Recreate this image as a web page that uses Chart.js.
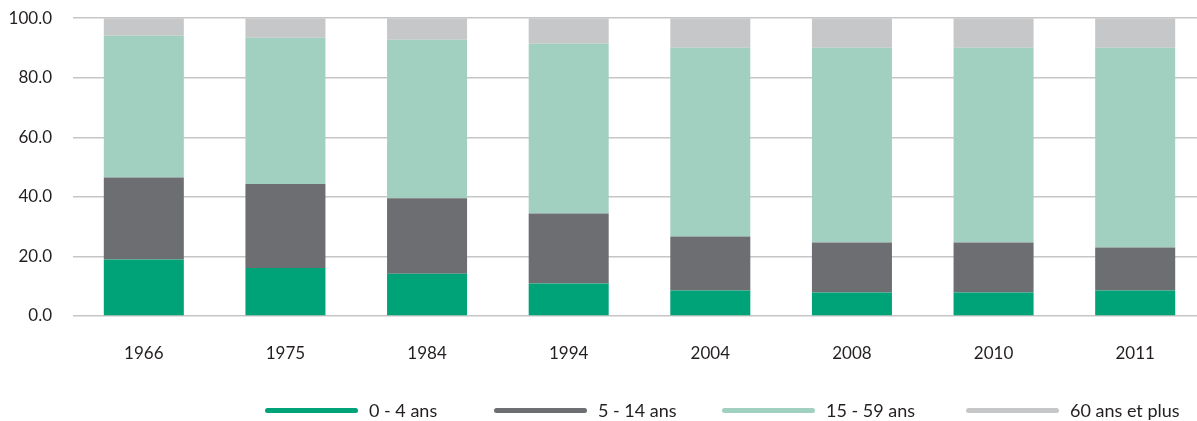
<!DOCTYPE html>
<html>
<head>
<meta charset="utf-8">
<script src="https://cdn.jsdelivr.net/npm/chart.js@4/dist/chart.umd.min.js"></script>
<style>
  html, body { margin: 0; padding: 0; background: #fff; overflow: hidden; }
  #wrap { position: relative; width: 1206px; height: 421px; overflow: hidden; }
  #chart { position: absolute; left: 0; top: -13px; }
  .legend { position: absolute; top: 398px; height: 24px; display: flex; align-items: center;
            font-family: Lato, "Open Sans", sans-serif; font-size: 18px; color: #231f20; white-space: nowrap; }
  .legend .swatch { width: 93px; height: 5px; border-radius: 3px; margin-right: 11px; }
</style>
</head>
<body>
<div id="wrap">
  <canvas id="chart" width="1206" height="434"></canvas>
</div>
<script>
// Répartition de la population par groupe d'âge (%)
const years = ['1966', '1975', '1984', '1994', '2004', '2008', '2010', '2011'];
const age0to4   = [19.0, 16.1, 14.2, 10.9, 8.6, 7.9, 7.9, 8.6];
const age5to14  = [27.5, 28.2, 25.3, 23.5, 18.1, 16.8, 16.8, 14.4];
const age15to59 = [47.6, 49.1, 53.3, 57.0, 63.4, 65.4, 65.4, 67.1];
const age60plus = [5.9, 6.6, 7.2, 8.6, 9.9, 9.9, 9.9, 9.9];
const seriesNames = ['0 - 4 ans', '5 - 14 ans', '15 - 59 ans', '60 ans et plus'];
const seriesColors = ['#00a278', '#6d6e71', '#a2d0c0', '#c6c7c8'];
const yTicks = [0, 20, 40, 60, 80, 100];

const seriesValues = [age0to4, age5to14, age15to59, age60plus];
const FONT = 'Lato, "Open Sans", sans-serif';

const chart = new Chart(document.getElementById('chart'), {
  type: 'bar',
  data: {
    labels: years,
    datasets: seriesValues.map((vals, i) => ({
      label: seriesNames[i],
      data: vals,
      backgroundColor: seriesColors[i],
      borderWidth: 0,
      barPercentage: 0.565,
      categoryPercentage: 1.0
    }))
  },
  options: {
    responsive: false,
    animation: false,
    layout: { padding: { top: 4, right: 0, bottom: 0, left: 0 } },
    plugins: { legend: { display: false }, tooltip: { enabled: false } },
    scales: {
      x: {
        stacked: true,
        grid: { display: false, drawTicks: false },
        border: { display: false },
        ticks: { color: '#231f20', font: { family: FONT, size: 17 }, padding: 27 },
        afterFit(scale) { scale.height = 105; }
      },
      y: {
        stacked: true,
        min: 0,
        max: 100,
        afterBuildTicks(scale) { scale.ticks = yTicks.map(v => ({ value: v })); },
        grid: { color: '#c6c6c6', lineWidth: 1.5, drawTicks: false },
        border: { display: false },
        ticks: {
          color: '#231f20',
          font: { family: FONT, size: 17 },
          padding: 21,
          callback: v => Number(v).toFixed(1)
        },
        afterFit(scale) { scale.width = 73; }
      }
    }
  }
});

// Légende : trait épais suivi du libellé de la série
const legendLefts = [265, 494, 722, 966];
const wrap = document.getElementById('wrap');
seriesNames.forEach((name, i) => {
  const item = document.createElement('div');
  item.className = 'legend';
  item.style.left = legendLefts[i] + 'px';
  const sw = document.createElement('div');
  sw.className = 'swatch';
  sw.style.background = seriesColors[i];
  const txt = document.createElement('span');
  txt.textContent = name;
  item.appendChild(sw);
  item.appendChild(txt);
  wrap.appendChild(item);
});
</script>
</body>
</html>
